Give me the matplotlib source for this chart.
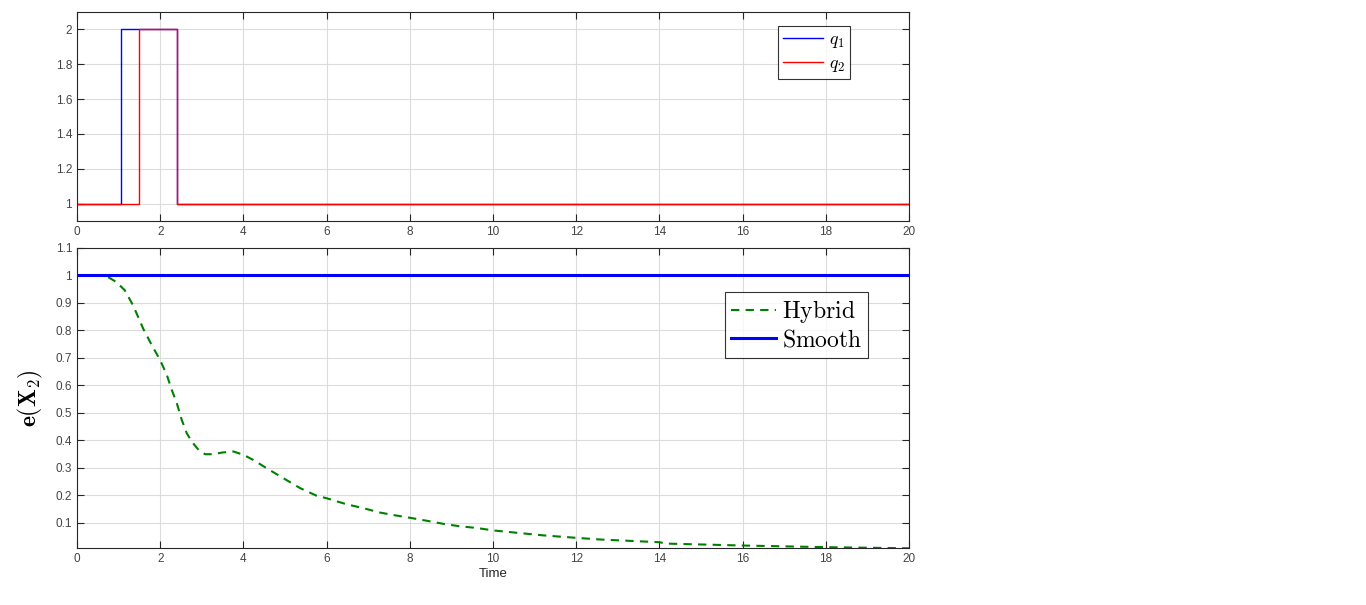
import numpy as np
import matplotlib
matplotlib.use("Agg")
from matplotlib import pyplot as plt

plt.rcParams['font.family'] = ['Liberation Sans', 'DejaVu Sans']
plt.rcParams['mathtext.fontset'] = 'cm'

# switching signals (step values)
q1_t = [0, 1.05, 1.05, 2.4, 2.4, 20]
q1_v = [1, 1, 2, 2, 1, 1]
q2_t = [0, 1.5, 1.5, 2.4, 2.4, 20]
q2_v = [1, 1, 2, 2, 1, 1]

# e(X2) hybrid response
hyb_t = [0.75, 0.95, 1.15, 1.35, 1.59, 1.8, 2.0, 2.16, 2.28, 2.4, 2.52, 2.64, 2.76,
         2.92, 3.08, 3.28, 3.48, 3.76, 4.0, 4.24, 4.56, 4.96, 5.36, 5.76, 6.0, 6.48,
         6.88, 7.28, 7.6, 8.0, 8.41, 8.8, 9.2, 9.6, 10.0, 10.4, 10.8, 11.2, 12.0,
         12.57, 14.0, 14.17, 16.0, 18.0, 20.0]
hyb_v = [0.994, 0.976, 0.946, 0.891, 0.807, 0.746, 0.692, 0.638, 0.583, 0.535, 0.474,
         0.426, 0.396, 0.366, 0.350, 0.350, 0.356, 0.360, 0.348, 0.329, 0.299, 0.263,
         0.227, 0.199, 0.190, 0.168, 0.154, 0.138, 0.129, 0.119, 0.108, 0.097, 0.088,
         0.082, 0.073, 0.067, 0.061, 0.055, 0.046, 0.040, 0.030, 0.025, 0.018, 0.012,
         0.008]
smooth_t = [0, 20]
smooth_v = [1, 1]

W, H = 1366, 605
fig = plt.figure(figsize=(W / 100, H / 100), dpi=100)
ax1 = fig.add_axes([77 / W, 1 - 221 / H, (909 - 77) / W, (221 - 12) / H])
ax2 = fig.add_axes([77 / W, 1 - 548 / H, (909 - 77) / W, (548 - 248) / H])

def style(ax):
    ax.grid(True, color='#dcdcdc', linewidth=0.8)
    ax.set_axisbelow(True)
    ax.tick_params(direction='in', top=True, right=True, labelsize=8.5,
                   labelcolor='#444444', color='#262626', length=5, width=0.8)
    for s in ax.spines.values():
        s.set_color('#262626')
        s.set_linewidth(0.8)

ax1.plot(q1_t, q1_v, color='blue', lw=1, label=r'$q_1$')
ax1.plot(q2_t, q2_v, color='red', lw=1, label=r'$q_2$')
ax1.set_xlim(0, 20)
ax1.set_ylim(0.9, 2.1)
ax1.set_xticks(np.arange(0, 21, 2))
ax1.set_yticks([1, 1.2, 1.4, 1.6, 1.8, 2])
ax1.set_yticklabels(['1', '1.2', '1.4', '1.6', '1.8', '2'])
style(ax1)
leg1 = ax1.legend(loc='upper left', bbox_to_anchor=(778 / W, 1 - 26 / H),
                  bbox_transform=fig.transFigure, fancybox=False, edgecolor='black',
                  fontsize=13, handlelength=2.2, borderpad=0.3, labelspacing=0.25,
                  handletextpad=0.3, borderaxespad=0)
leg1.get_frame().set_linewidth(0.8)

ax2.plot(hyb_t, hyb_v, color=(0, 0.5, 0), lw=1.5, ls=(0, (4, 3)),
         label=r'$\mathrm{Hybrid}$')
ax2.plot(smooth_t, smooth_v, color='blue', lw=2.2, label=r'$\mathrm{Smooth}$')
ax2.set_xlim(0, 20)
ax2.set_ylim(0.009, 1.1)
ax2.set_xticks(np.arange(0, 21, 2))
ax2.set_yticks([0.1, 0.2, 0.3, 0.4, 0.5, 0.6, 0.7, 0.8, 0.9, 1, 1.1])
ax2.set_yticklabels(['0.1', '0.2', '0.3', '0.4', '0.5', '0.6', '0.7', '0.8',
                     '0.9', '1', '1.1'])
style(ax2)
ax2.set_xlabel('Time', fontsize=9.5, color='#262626', labelpad=2)
ax2.set_ylabel(r'$\mathbf{e}(\mathbf{X}_\mathbf{2})$', fontsize=17, labelpad=8)
leg2 = ax2.legend(loc='upper left', bbox_to_anchor=(725 / W, 1 - 292 / H),
                  bbox_transform=fig.transFigure, fancybox=False, edgecolor='black',
                  fontsize=17, handlelength=1.9, borderpad=0.25, labelspacing=0.2,
                  handletextpad=0.25, borderaxespad=0)
leg2.get_frame().set_linewidth(0.8)

fig.savefig('out.png', dpi=100)
